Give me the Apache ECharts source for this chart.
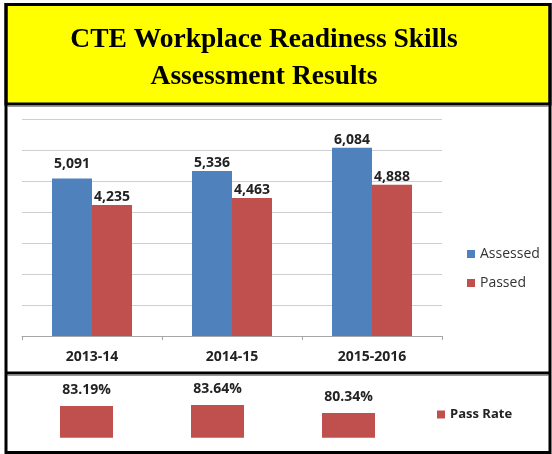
<!DOCTYPE html>
<html>
<head>
<meta charset="utf-8">
<script src="https://cdn.jsdelivr.net/npm/echarts@6/dist/echarts.min.js"></script>
<style>
  html, body { margin: 0; padding: 0; background: #fff; }
  #chart { width: 552px; height: 454px; }
</style>
</head>
<body>
<div id="chart"></div>
<script>
// data
const categories = ['2013-14', '2014-15', '2015-2016']
const assessed = [5091, 5336, 6084]
const passed = [4235, 4463, 4888]
const passRate = [83.19, 83.64, 80.34]

const labelFont = '"Open Sans", "DejaVu Sans", sans-serif'
const blue = '#4F81BD'
const red = '#C0504D'

const myChart = echarts.init(document.getElementById('chart'), null, { renderer: 'canvas' })

const option = {
  backgroundColor: '#fff',
  animation: false,
  graphic: [
    // yellow title box
    {
      type: 'rect',
      shape: { x: 6, y: 4.5, width: 544, height: 99.5 },
      style: { fill: '#FFFF00', stroke: '#000', lineWidth: 3 },
      z: 0
    },
    {
      type: 'text',
      x: 264,
      y: 21,
      style: {
        text: 'CTE Workplace Readiness Skills\nAssessment Results',
        align: 'center',
        verticalAlign: 'top',
        fontFamily: '"Liberation Serif", "Times New Roman", serif',
        fontWeight: 'bold',
        fontSize: 27.5,
        lineHeight: 37,
        fill: '#000'
      },
      z: 1
    },
    // shadows under the black rules
    {
      type: 'line',
      shape: { x1: 7.5, y1: 106.5, x2: 548.5, y2: 106.5 },
      style: { stroke: '#9a9a9a', lineWidth: 1 },
      z: 0
    },
    {
      type: 'line',
      shape: { x1: 7.5, y1: 375.5, x2: 548.5, y2: 375.5 },
      style: { stroke: '#9a9a9a', lineWidth: 1 },
      z: 0
    },
    // outer frame
    {
      type: 'rect',
      shape: { x: 6, y: 4.5, width: 544, height: 448 },
      style: { fill: 'none', stroke: '#000', lineWidth: 3 },
      z: 1
    },
    // rule between the two charts
    {
      type: 'line',
      shape: { x1: 6, y1: 373, x2: 550, y2: 373 },
      style: { stroke: '#000', lineWidth: 3 },
      z: 1
    }
  ],
  legend: [
    {
      data: ['Assessed', 'Passed'],
      orient: 'vertical',
      left: 462,
      top: 242,
      itemWidth: 8,
      itemHeight: 8,
      itemGap: 15,
      icon: 'rect',
      textStyle: { fontFamily: labelFont, fontSize: 14, lineHeight: 14, color: '#333' }
    },
    {
      data: ['Pass Rate'],
      left: 432,
      top: 402.5,
      itemWidth: 8,
      itemHeight: 8,
      icon: 'rect',
      textStyle: { fontFamily: labelFont, fontSize: 13, fontWeight: 'bold', lineHeight: 14, color: '#222' }
    }
  ],
  grid: [
    { left: 22, right: 110, top: 119.5, bottom: 118 },
    { left: 21, right: 138, top: 389.7, bottom: 16.3 }
  ],
  xAxis: [
    {
      type: 'category',
      gridIndex: 0,
      data: categories,
      axisLine: { lineStyle: { color: '#a6a6a6', width: 1 } },
      axisTick: { show: true, alignWithLabel: false, length: 4, lineStyle: { color: '#a6a6a6' } },
      axisLabel: {
        fontFamily: labelFont,
        fontSize: 14,
        fontWeight: 'bold',
        color: '#222',
        margin: 14
      }
    },
    {
      type: 'category',
      gridIndex: 1,
      data: categories,
      show: false
    }
  ],
  yAxis: [
    {
      type: 'value',
      gridIndex: 0,
      min: 0,
      max: 7000,
      interval: 1000,
      axisLabel: { show: false },
      axisLine: { show: false },
      axisTick: { show: false },
      splitLine: { lineStyle: { color: '#cfcfcf', width: 1 } }
    },
    {
      type: 'value',
      gridIndex: 1,
      min: 70,
      max: 90,
      show: false,
      splitLine: { show: false }
    }
  ],
  series: [
    {
      name: 'Assessed',
      type: 'bar',
      xAxisIndex: 0,
      yAxisIndex: 0,
      barWidth: 40,
      barGap: '0%',
      itemStyle: { color: blue },
      label: {
        show: true,
        position: 'top',
        distance: 1,
        fontFamily: labelFont,
        fontSize: 14,
        fontWeight: 'bold',
        color: '#222',
        formatter: p => p.value.toLocaleString('en-US')
      },
      // first label sits a little higher in the original
      data: assessed.map((v, i) => i === 0 ? { value: v, label: { distance: 8 } } : v)
    },
    {
      name: 'Passed',
      type: 'bar',
      xAxisIndex: 0,
      yAxisIndex: 0,
      barWidth: 40,
      barGap: '0%',
      itemStyle: { color: red },
      label: {
        show: true,
        position: 'top',
        distance: 1,
        fontFamily: labelFont,
        fontSize: 14,
        fontWeight: 'bold',
        color: '#222',
        formatter: p => p.value.toLocaleString('en-US')
      },
      data: passed
    },
    {
      name: 'Pass Rate',
      type: 'bar',
      xAxisIndex: 1,
      yAxisIndex: 1,
      barWidth: 53,
      itemStyle: { color: red },
      label: {
        show: true,
        position: 'top',
        distance: 9,
        fontFamily: labelFont,
        fontSize: 14,
        fontWeight: 'bold',
        color: '#222',
        formatter: p => p.value.toFixed(2) + '%'
      },
      data: passRate
    }
  ]
}

myChart.setOption(option)
</script>
</body>
</html>
